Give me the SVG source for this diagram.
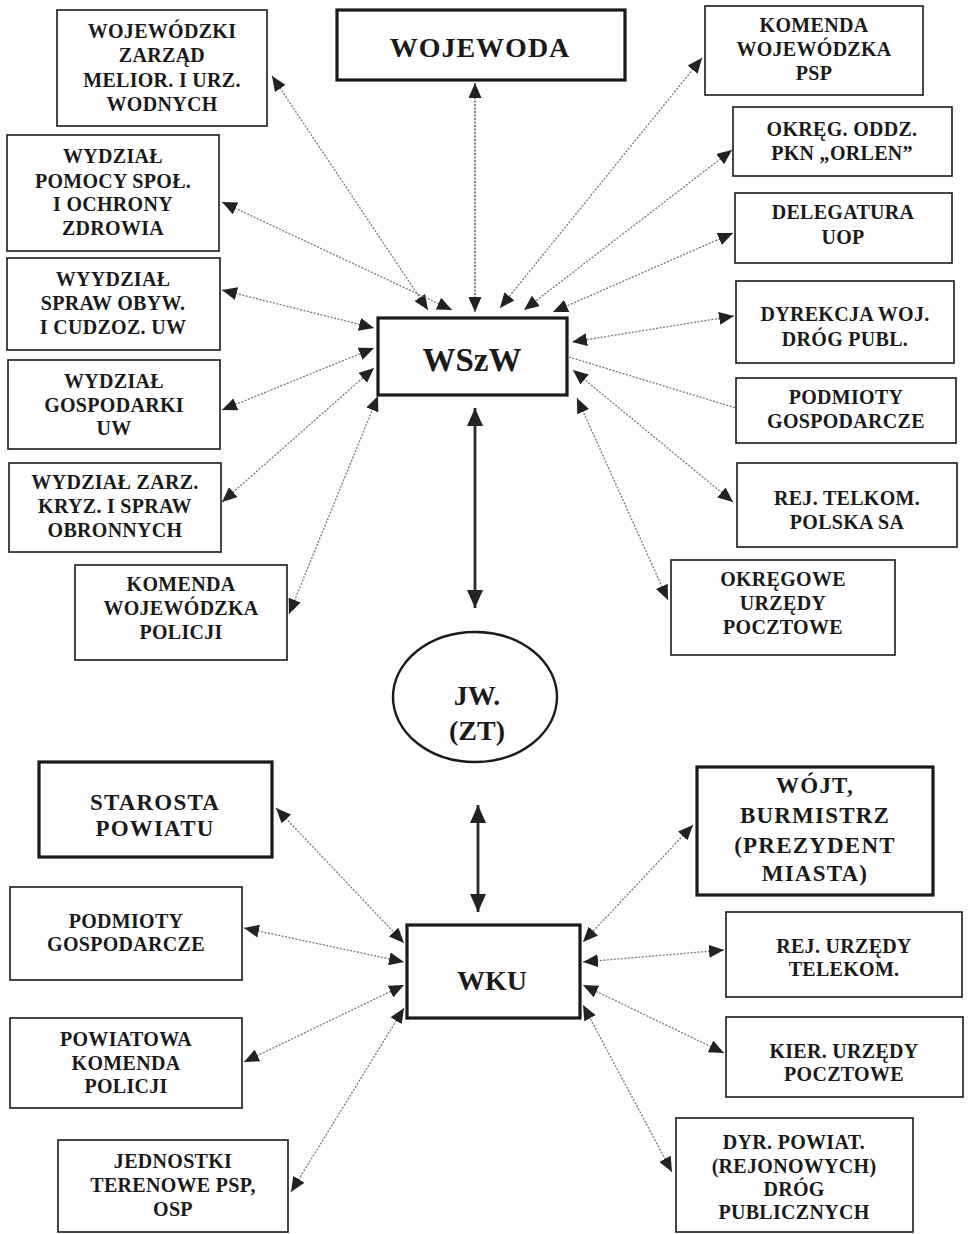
<svg xmlns="http://www.w3.org/2000/svg" width="970" height="1234" viewBox="0 0 970 1234">
<style>
.bg{fill:#fdfdfd}
.box{fill:#fff;stroke:#1a1a1a;stroke-width:1.6}
.thick{fill:#fff;stroke:#1a1a1a;stroke-width:3.2}
.t{font-family:"Liberation Serif","Times New Roman",serif;font-weight:bold;font-size:20px;letter-spacing:0.3px;fill:#1a1a1a;text-anchor:middle}
.tl{font-size:23px;letter-spacing:1.2px}
.con{stroke:#7a7a7a;stroke-width:1.3;stroke-dasharray:2 1.5;fill:none}
.dk{stroke:#444}
.big{stroke:#2a2a2a;stroke-width:2.8;fill:none}
</style>
<defs>
<marker id="ah" viewBox="0 0 15 13" refX="15" refY="6.5" markerWidth="15" markerHeight="13" markerUnits="userSpaceOnUse" orient="auto-start-reverse"><path d="M0,0 L15,6.5 L0,13 z" fill="#222"/></marker>
<marker id="ahb" viewBox="0 0 18 16" refX="18" refY="8" markerWidth="18" markerHeight="16" markerUnits="userSpaceOnUse" orient="auto-start-reverse"><path d="M0,0 L18,8 L0,16 z" fill="#222"/></marker>
</defs>
<rect class="bg" x="0" y="0" width="970" height="1234"/>
<g id="connectors">
<line class="con" x1="272" y1="76" x2="428" y2="310" marker-start="url(#ah)" marker-end="url(#ah)"/>
<line class="con" x1="222" y1="202" x2="452" y2="310" marker-start="url(#ah)" marker-end="url(#ah)"/>
<line class="con dk" x1="475" y1="83" x2="475" y2="312" marker-start="url(#ah)" marker-end="url(#ah)"/>
<line class="con" x1="702" y1="58" x2="500" y2="308" marker-start="url(#ah)" marker-end="url(#ah)"/>
<line class="con" x1="732" y1="150" x2="524" y2="310" marker-start="url(#ah)" marker-end="url(#ah)"/>
<line class="con" x1="733" y1="233" x2="553" y2="312" marker-start="url(#ah)" marker-end="url(#ah)"/>
<line class="con" x1="222" y1="290" x2="374" y2="328" marker-start="url(#ah)" marker-end="url(#ah)"/>
<line class="con" x1="222" y1="410" x2="374" y2="348" marker-start="url(#ah)" marker-end="url(#ah)"/>
<line class="con" x1="222" y1="502" x2="374" y2="368" marker-start="url(#ah)" marker-end="url(#ah)"/>
<line class="con" x1="289" y1="614" x2="378" y2="396" marker-start="url(#ah)" marker-end="url(#ah)"/>
<line class="con" x1="734" y1="316" x2="572" y2="342" marker-start="url(#ah)" marker-end="url(#ah)"/>
<line class="con" x1="569" y1="357" x2="736" y2="408"/>
<line class="con" x1="733" y1="502" x2="573" y2="370" marker-start="url(#ah)" marker-end="url(#ah)"/>
<line class="con" x1="668" y1="600" x2="577" y2="398" marker-start="url(#ah)" marker-end="url(#ah)"/>
<line class="big" x1="475" y1="408" x2="475" y2="608" marker-start="url(#ahb)" marker-end="url(#ahb)"/>
<line class="big" x1="478" y1="805" x2="478" y2="912" marker-start="url(#ahb)" marker-end="url(#ahb)"/>
<line class="con" x1="276" y1="808" x2="404" y2="943" marker-start="url(#ah)" marker-end="url(#ah)"/>
<line class="con" x1="244" y1="928" x2="404" y2="962" marker-start="url(#ah)" marker-end="url(#ah)"/>
<line class="con" x1="244" y1="1062" x2="404" y2="985" marker-start="url(#ah)" marker-end="url(#ah)"/>
<line class="con" x1="291" y1="1192" x2="404" y2="1008" marker-start="url(#ah)" marker-end="url(#ah)"/>
<line class="con" x1="693" y1="825" x2="583" y2="942" marker-start="url(#ah)" marker-end="url(#ah)"/>
<line class="con" x1="724" y1="950" x2="583" y2="962" marker-start="url(#ah)" marker-end="url(#ah)"/>
<line class="con" x1="724" y1="1053" x2="583" y2="985" marker-start="url(#ah)" marker-end="url(#ah)"/>
<line class="con" x1="672" y1="1172" x2="583" y2="1005" marker-start="url(#ah)" marker-end="url(#ah)"/>
</g>
<g id="n-zarzad"><rect class="box" x="57" y="10" width="210" height="116"/>
<text class="t" x="162" y="38">WOJEWÓDZKI</text><text class="t" x="162" y="62">ZARZĄD</text><text class="t" x="162" y="87">MELIOR. I URZ.</text><text class="t" x="162" y="111">WODNYCH</text></g>
<g id="n-wojewoda"><rect class="thick" x="337" y="10" width="288" height="70"/>
<text class="t" x="480" y="57" style="font-size:28px;letter-spacing:1px">WOJEWODA</text></g>
<g id="n-psp"><rect class="box" x="705" y="6" width="218" height="89"/>
<text class="t" x="814" y="32">KOMENDA</text><text class="t" x="814" y="56">WOJEWÓDZKA</text><text class="t" x="814" y="80">PSP</text></g>
<g id="n-orlen"><rect class="box" x="733" y="107" width="219" height="69"/>
<text class="t" x="842" y="136">OKRĘG. ODDZ.</text><text class="t" x="842" y="160">PKN „ORLEN”</text></g>
<g id="n-uop"><rect class="box" x="735" y="193" width="217" height="70"/>
<text class="t" x="843" y="219">DELEGATURA</text><text class="t" x="843" y="244">UOP</text></g>
<g id="n-dyrekcja"><rect class="box" x="736" y="281" width="218" height="82"/>
<text class="t" x="845" y="321">DYREKCJA WOJ.</text><text class="t" x="845" y="346">DRÓG PUBL.</text></g>
<g id="n-podmioty-r"><rect class="box" x="736" y="378" width="220" height="65"/>
<text class="t" x="846" y="404">PODMIOTY</text><text class="t" x="846" y="428">GOSPODARCZE</text></g>
<g id="n-telkom"><rect class="box" x="737" y="463" width="220" height="84"/>
<text class="t" x="847" y="505">REJ. TELKOM.</text><text class="t" x="847" y="529">POLSKA SA</text></g>
<g id="n-okregowe"><rect class="box" x="671" y="560" width="224" height="95"/>
<text class="t" x="783" y="586">OKRĘGOWE</text><text class="t" x="783" y="610">URZĘDY</text><text class="t" x="783" y="634">POCZTOWE</text></g>
<g id="n-pomocy"><rect class="box" x="7" y="135" width="212" height="116"/>
<text class="t" x="113" y="163">WYDZIAŁ</text><text class="t" x="113" y="188">POMOCY SPOŁ.</text><text class="t" x="113" y="211">I OCHRONY</text><text class="t" x="113" y="235">ZDROWIA</text></g>
<g id="n-obyw"><rect class="box" x="7" y="258" width="213" height="92"/>
<text class="t" x="113" y="286">WYYDZIAŁ</text><text class="t" x="113" y="310">SPRAW OBYW.</text><text class="t" x="113" y="334">I CUDZOZ. UW</text></g>
<g id="n-gospodarki"><rect class="box" x="8" y="360" width="212" height="89"/>
<text class="t" x="114" y="388">WYDZIAŁ</text><text class="t" x="114" y="412">GOSPODARKI</text><text class="t" x="114" y="435">UW</text></g>
<g id="n-kryz"><rect class="box" x="9" y="463" width="212" height="89"/>
<text class="t" x="115" y="489">WYDZIAŁ ZARZ.</text><text class="t" x="115" y="513">KRYZ. I SPRAW</text><text class="t" x="115" y="537">OBRONNYCH</text></g>
<g id="n-kwp"><rect class="box" x="75" y="565" width="212" height="95"/>
<text class="t" x="181" y="591">KOMENDA</text><text class="t" x="181" y="615">WOJEWÓDZKA</text><text class="t" x="181" y="639">POLICJI</text></g>
<g id="n-wszw"><rect class="thick" x="378" y="318" width="189" height="77"/>
<text class="t" x="472" y="371" style="font-size:33px;letter-spacing:0">WSzW</text></g>
<g id="n-jw"><ellipse cx="475" cy="697" rx="82" ry="65" fill="#fff" stroke="#1a1a1a" stroke-width="2.4"/>
<text class="t" x="477" y="705" style="font-size:28px;letter-spacing:0">JW.</text><text class="t" x="477" y="740" style="font-size:28px;letter-spacing:0">(ZT)</text></g>
<g id="n-starosta"><rect class="thick" x="39" y="762" width="233" height="95"/>
<text class="t tl" x="155" y="810">STAROSTA</text><text class="t tl" x="155" y="836">POWIATU</text></g>
<g id="n-podmioty-l"><rect class="box" x="10" y="887" width="232" height="93"/>
<text class="t" x="126" y="928">PODMIOTY</text><text class="t" x="126" y="951">GOSPODARCZE</text></g>
<g id="n-pkp"><rect class="box" x="10" y="1018" width="232" height="90"/>
<text class="t" x="126" y="1046">POWIATOWA</text><text class="t" x="126" y="1070">KOMENDA</text><text class="t" x="126" y="1093">POLICJI</text></g>
<g id="n-jednostki"><rect class="box" x="58" y="1140" width="230" height="92"/>
<text class="t" x="173" y="1168">JEDNOSTKI</text><text class="t" x="173" y="1192">TERENOWE PSP,</text><text class="t" x="173" y="1216">OSP</text></g>
<g id="n-wku"><rect class="thick" x="407" y="925" width="173" height="93"/>
<text class="t" x="492" y="990" style="font-size:28px;letter-spacing:0">WKU</text></g>
<g id="n-wojt"><rect class="thick" x="697" y="767" width="236" height="128"/>
<text class="t tl" x="815" y="793">WÓJT,</text><text class="t tl" x="815" y="823">BURMISTRZ</text><text class="t tl" x="815" y="853">(PREZYDENT</text><text class="t tl" x="815" y="881">MIASTA)</text></g>
<g id="n-rejurz"><rect class="box" x="726" y="912" width="236" height="85"/>
<text class="t" x="844" y="953">REJ. URZĘDY</text><text class="t" x="844" y="976">TELEKOM.</text></g>
<g id="n-kier"><rect class="box" x="726" y="1017" width="237" height="80"/>
<text class="t" x="844" y="1058">KIER. URZĘDY</text><text class="t" x="844" y="1081">POCZTOWE</text></g>
<g id="n-dyr"><rect class="box" x="676" y="1118" width="237" height="114"/>
<text class="t" x="794" y="1149">DYR. POWIAT.</text><text class="t" x="794" y="1173">(REJONOWYCH)</text><text class="t" x="794" y="1196">DRÓG</text><text class="t" x="794" y="1219">PUBLICZNYCH</text></g>
</svg>
